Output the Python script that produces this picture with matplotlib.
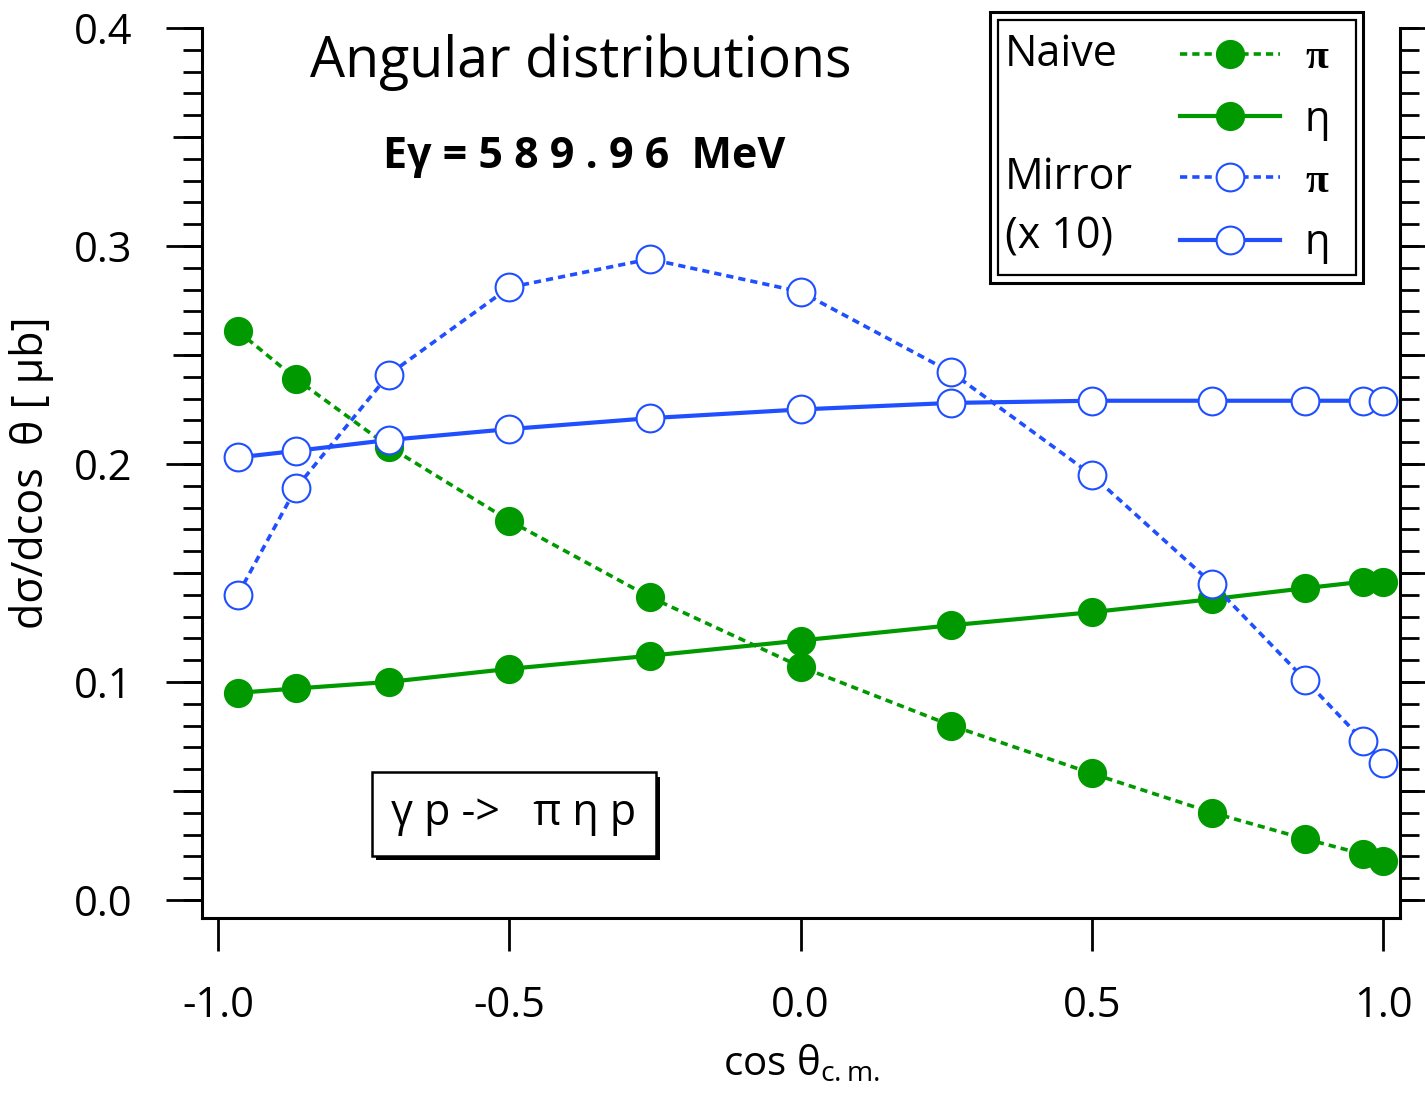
import numpy as np
import matplotlib
matplotlib.use('Agg')
import matplotlib.pyplot as plt
from matplotlib.patches import Rectangle
from matplotlib import patheffects

plt.rcParams['font.family'] = ['Open Sans', 'DejaVu Sans']
plt.rcParams['mathtext.fontset'] = 'custom'
plt.rcParams['mathtext.rm'] = 'Open Sans'
plt.rcParams['mathtext.it'] = 'Open Sans'

# cos(theta_cm) bins: 165, 150, ..., 15, 0 degrees
cos_theta = [-0.966, -0.866, -0.707, -0.5, -0.259, 0.0, 0.259, 0.5, 0.707, 0.866, 0.966, 1.0]

naive_pi = [0.261, 0.239, 0.208, 0.174, 0.139, 0.107, 0.080, 0.058, 0.040, 0.028, 0.021, 0.018]
naive_eta = [0.095, 0.097, 0.100, 0.106, 0.112, 0.119, 0.126, 0.132, 0.138, 0.143, 0.146, 0.146]
mirror_pi = [0.140, 0.189, 0.241, 0.281, 0.294, 0.279, 0.242, 0.195, 0.145, 0.101, 0.073, 0.063]
mirror_eta = [0.203, 0.206, 0.211, 0.216, 0.221, 0.225, 0.228, 0.229, 0.229, 0.229, 0.229, 0.229]

green = '#009900'
blue = '#1f4fff'

fig = plt.figure(figsize=(14.25, 10.95), dpi=100)
ax = fig.add_axes([202/1425, 1 - 918/1095, (1400-202)/1425, (918-28)/1095])

dot = (0, (2.0, 1.4))
l1, = ax.plot(cos_theta, naive_pi, color=green, ls=dot, lw=2.6, marker='o', ms=20,
              mfc=green, mec=green)
l2, = ax.plot(cos_theta, naive_eta, color=green, ls='-', lw=3, marker='o', ms=20,
              mfc=green, mec=green)
l3, = ax.plot(cos_theta, mirror_pi, color=blue, ls=dot, lw=2.6, marker='o', ms=20,
              mfc='white', mec=blue, mew=1.5)
l4, = ax.plot(cos_theta, mirror_eta, color=blue, ls='-', lw=3, marker='o', ms=20,
              mfc='white', mec=blue, mew=1.5)

ax.set_xlim(-1.0275, 1.029)
ax.set_ylim(-0.0083, 0.4)

for s in ['left', 'right', 'bottom']:
    ax.spines[s].set_linewidth(2.2)
ax.spines['top'].set_visible(False)

ax.set_xticks([-1.0, -0.5, 0.0, 0.5, 1.0])
ax.set_xticklabels(['-1.0', '-0.5', '0.0', '0.5', '1.0'])
ax.set_yticks([0.0, 0.1, 0.2, 0.3, 0.4])
ax.set_yticklabels(['0.0', '0.1', '0.2', '0.3', '0.4'])
ax.set_yticks(np.arange(0.05, 0.4, 0.1), minor=True)
ax.tick_params(axis='x', direction='out', length=24, width=2, pad=24, labelsize=30)
ax.tick_params(axis='y', which='major', direction='out', length=26, width=2, pad=24,
               labelsize=30, left=True, right=True, labelright=False)
ax.tick_params(axis='y', which='minor', direction='out', length=21, width=2,
               left=True, right=True)

# small 0.01 ticks on both vertical axes
for side in ['left', 'right']:
    sec = ax.secondary_yaxis(side)
    sec.set_yticks(np.arange(0.0, 0.401, 0.01))
    sec.tick_params(direction='out', length=14, width=2, labelleft=False, labelright=False)
    sec.spines[side].set_visible(False)

ax.set_ylabel('dσ/dcos  θ [ μb]', fontsize=31, labelpad=14)
ax.set_xlabel(r'cos θ$_{\mathrm{c.m.}}$', fontsize=29, labelpad=12)

fig.text(581/1425, 1 - 62/1095, 'Angular distributions', fontsize=40,
         ha='center', va='center')
fig.text(584/1425, 1 - 157/1095, 'E\u03b3 = 5 8 9 . 9 6  MeV', fontsize=31,
         fontweight='bold', ha='center', va='center')

reaction = fig.text(514/1425, 1 - 814/1095, 'γ p ->   π η p', fontsize=31,
                    ha='center', va='center',
                    bbox=dict(boxstyle='square,pad=0.45', fc='white', ec='black', lw=1.8))
reaction.get_bbox_patch().set_path_effects([
    patheffects.SimplePatchShadow(offset=(3, -3), shadow_rgbFace='black', alpha=1.0),
    patheffects.Normal()])

# legend
leg = ax.legend(handles=[l1, l2, l3, l4], labels=['π', 'η', 'π', 'η'],
                loc='upper left', bbox_to_anchor=(1180/1425, 1 - 39/1095),
                bbox_transform=fig.transFigure, frameon=False, fontsize=30,
                handlelength=2.4, handletextpad=0.6, labelspacing=0.52,
                borderpad=0, borderaxespad=0, numpoints=1)
for t, lab in zip(leg.get_texts(), ['π', 'η', 'π', 'η']):
    if lab == 'π':
        t.set_family(['Liberation Serif', 'DejaVu Serif'])
        t.set_fontweight('bold')
fig.add_artist(Rectangle((990/1425, 1 - 283/1095), (1363-990)/1425, (283-12)/1095,
                         transform=fig.transFigure, fill=False, ec='black', lw=2.2))
fig.add_artist(Rectangle((998/1425, 1 - 275/1095), (1356-998)/1425, (275-20)/1095,
                         transform=fig.transFigure, fill=False, ec='black', lw=1.6))
fig.text(1005/1425, 1 - 55/1095, 'Naive', fontsize=31, ha='left', va='center')
fig.text(1005/1425, 1 - 178/1095, 'Mirror', fontsize=31, ha='left', va='center')
fig.text(1005/1425, 1 - 237/1095, '(x 10)', fontsize=31, ha='left', va='center')

fig.savefig('out.png', dpi=100)
